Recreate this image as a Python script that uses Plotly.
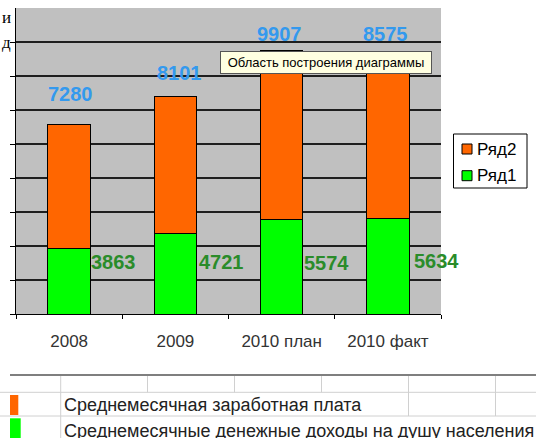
import plotly.graph_objects as go

# ---- data ----
categories = ["2008", "2009", "2010 план", "2010 факт"]
series_names = ["Ряд1", "Ряд2"]
income_per_capita = [3863, 4721, 5574, 5634]      # Ряд1 (green)
avg_salary = [7280, 8101, 9907, 8575]             # Ряд2 (orange)
row_labels = ["Среднемесячная заработная плата",
              "Среднемесячные денежные доходы на душу населения"]
tooltip_text = "Область построения диаграммы"
y_max = 18000
y_step = 2000

# ---- layout constants (pixels) ----
W, H = 536, 438
L, R, T, B = 16, 441, 8, 314
ORANGE = "#FF6600"
GREEN = "#00FF00"
BLUE_TXT = "#3399EE"
GREEN_TXT = "#2A8C2A"
FONT = "Liberation Sans, Arial, sans-serif"

x_pos = list(range(len(categories)))
boundaries = [i - 0.5 for i in range(len(categories) + 1)]


def px(x):
    return (x - L) / (R - L)


def py(y):
    return (B - y) / (B - T)


fig = go.Figure()
fig.add_trace(go.Bar(x=x_pos, y=income_per_capita, name=series_names[0],
                     marker=dict(color=GREEN, line=dict(color="black", width=1)),
                     width=0.4, hoverinfo="skip"))
fig.add_trace(go.Bar(x=x_pos, y=avg_salary, name=series_names[1],
                     marker=dict(color=ORANGE, line=dict(color="black", width=1)),
                     width=0.4, hoverinfo="skip"))

annotations = []
# blue labels above stacks (salary values)
blue_yshift = [31, 23.5, 17, 38.6]
blue_xshift = [1, 4, -2, -2]
for xp, a, b, ys, xs in zip(x_pos, income_per_capita, avg_salary, blue_yshift, blue_xshift):
    annotations.append(dict(x=xp, y=a + b, xref="x", yref="y", text=str(b),
                            showarrow=False, yanchor="middle", xanchor="center",
                            yshift=ys, xshift=xs,
                            font=dict(family=FONT, size=20, color=BLUE_TXT, weight="bold")))
# green labels to the right of bars (income values)
green_xshift = [44, 46, 45, 49]
green_yshift = [52, 52, 50.7, 52.7]
for xp, a, xs, ys in zip(x_pos, income_per_capita, green_xshift, green_yshift):
    annotations.append(dict(x=xp, y=0, xref="x", yref="y", text=str(a),
                            showarrow=False, yanchor="middle", xanchor="center",
                            xshift=xs, yshift=ys,
                            font=dict(family=FONT, size=20, color=GREEN_TXT, weight="bold")))

# tooltip
annotations.append(dict(x=px(326), y=py(62), xref="paper", yref="paper", text=tooltip_text,
                        showarrow=False, xanchor="center", yanchor="middle",
                        bgcolor="#FFFFE1", bordercolor="#555555", borderwidth=1,
                        borderpad=1, width=208, height=19,
                        font=dict(family=FONT, size=13, color="black")))

# manual legend
legend_items = [(series_names[1], ORANGE, 149), (series_names[0], GREEN, 175.7)]
shapes = [dict(type="rect", xref="paper", yref="paper",
               x0=px(453.5), x1=px(527), y0=py(134), y1=py(188),
               line=dict(color="black", width=1), fillcolor="white")]
for name, col, cy in legend_items:
    shapes.append(dict(type="rect", xref="paper", yref="paper",
                       x0=px(462), x1=px(472), y0=py(cy - 5), y1=py(cy + 5),
                       line=dict(color="black", width=1), fillcolor=col))
    annotations.append(dict(x=px(475), y=py(cy), xref="paper", yref="paper", text=name,
                            showarrow=False, xanchor="left", yanchor="middle",
                            font=dict(family=FONT, size=17, color="black")))

# table below the chart
shapes.append(dict(type="line", xref="paper", yref="paper", x0=px(10), x1=px(536),
                   y0=py(375), y1=py(375), line=dict(color="#7F7F7F", width=2)))
for yy in [392.3, 416]:
    shapes.append(dict(type="line", xref="paper", yref="paper", x0=px(0), x1=px(536),
                       y0=py(yy), y1=py(yy), line=dict(color="#D0D0D0", width=1)))
shapes.append(dict(type="line", xref="paper", yref="paper", x0=px(60.7), x1=px(60.7),
                   y0=py(376), y1=py(438), line=dict(color="#D0D0D0", width=1)))
for xx in [147.5, 234.5, 321.5]:
    shapes.append(dict(type="line", xref="paper", yref="paper", x0=px(xx), x1=px(xx),
                       y0=py(376), y1=py(392.3), line=dict(color="#D0D0D0", width=1)))
for xx in [408.5, 495.5]:
    shapes.append(dict(type="line", xref="paper", yref="paper", x0=px(xx), x1=px(xx),
                       y0=py(376), y1=py(416), line=dict(color="#D0D0D0", width=1)))
shapes.append(dict(type="rect", xref="paper", yref="paper", x0=px(10), x1=px(18.3),
                   y0=py(415), y1=py(395), line=dict(width=0), fillcolor=ORANGE))
shapes.append(dict(type="rect", xref="paper", yref="paper", x0=px(10), x1=px(20.7),
                   y0=py(438), y1=py(418.3), line=dict(width=0), fillcolor=GREEN))
for text, cy in zip(row_labels, [404.5, 430.5]):
    annotations.append(dict(x=px(62), y=py(cy), xref="paper", yref="paper", text=text,
                            showarrow=False, xanchor="left", yanchor="middle",
                            font=dict(family=FONT, size=18, color="#222222")))

# fragments of surrounding document text
for ch, cy in [("и", 17.5), ("д", 42.5)]:
    annotations.append(dict(x=px(0), y=py(cy), xref="paper", yref="paper", text=ch,
                            showarrow=False, xanchor="left", yanchor="middle",
                            font=dict(family="Liberation Serif, Times New Roman, serif",
                                      size=17, color="black")))

fig.update_layout(
    width=W, height=H,
    margin=dict(l=L, r=W - R, t=T, b=H - B, autoexpand=False),
    barmode="stack",
    showlegend=False,
    paper_bgcolor="white",
    plot_bgcolor="#C0C0C0",
    font=dict(family=FONT),
    annotations=annotations,
    shapes=shapes,
    xaxis=dict(range=[-0.5, len(categories) - 0.5],
               tickmode="array", tickvals=x_pos, ticktext=categories,
               showline=True, linecolor="black", linewidth=1,
               ticks="", showgrid=False, zeroline=False, ticklabelstandoff=12,
               tickfont=dict(family=FONT, size=17, color="#333333"),
               minor=dict(tickmode="array", tickvals=boundaries, ticks="outside",
                          ticklen=4, tickcolor="black", showgrid=False)),
    yaxis=dict(range=[0, y_max], tickvals=list(range(0, y_max, y_step)),
               showticklabels=False, showline=True, linecolor="black", linewidth=1,
               ticks="outside", ticklen=5, tickcolor="black",
               showgrid=True, gridcolor="#1E1E1E", gridwidth=1.5, zeroline=False),
)

fig.write_html("out.html",
               config={"displayModeBar": False},
               post_script="document.body.style.margin='0px';"
                           "document.body.style.overflow='hidden';")
